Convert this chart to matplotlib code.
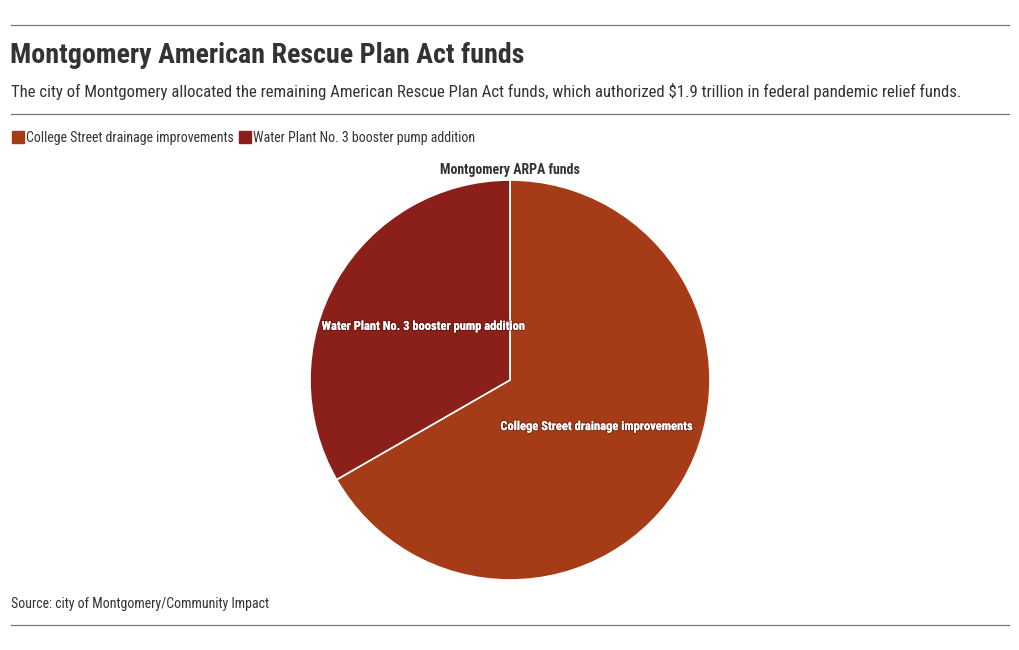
import matplotlib.pyplot as plt
import matplotlib.patheffects as pe
from matplotlib import font_manager
from matplotlib.lines import Line2D

# data
categories = ["College Street drainage improvements", "Water Plant No. 3 booster pump addition"]
shares = [66.7, 33.3]
colors = ["#A63B17", "#8A2019"]

names = {f.name for f in font_manager.fontManager.ttflist}
fam = "Roboto Condensed" if "Roboto Condensed" in names else "Roboto"
plt.rcParams['font.family'] = [fam, 'DejaVu Sans']
txt = "#333333"

fig = plt.figure(figsize=(10.2, 6.5), dpi=100)
W, H = 1020, 650

def fx(x):
    return x / W

def fy(y):
    return 1 - y / H

# rules
for y in (25, 114, 625):
    fig.add_artist(Line2D([fx(11), fx(1009)], [fy(y), fy(y)], color="#777777", lw=0.9))

fig.text(fx(10), fy(55.5), "Montgomery American Rescue Plan Act funds",
         fontsize=20.2, fontweight="bold", color=txt, va="center", ha="left")
fig.text(fx(11), fy(91), "The city of Montgomery allocated the remaining American Rescue Plan Act funds, "
         "which authorized $1.9 trillion in federal pandemic relief funds.",
         fontsize=12.1, color=txt, va="center", ha="left")

# legend
handles = [Line2D([], [], marker="s", ls="", markersize=8.5, color=c) for c in colors]
fig.legend(handles, categories, loc="center left", bbox_to_anchor=(fx(1), fy(138)),
           ncol=2, frameon=False, fontsize=10, handlelength=0.6, handletextpad=0.3,
           columnspacing=0.5, labelcolor=txt)

# pie
ax = fig.add_axes([fx(310), fy(580), 400 / W, 400 / H])
wedges, texts = ax.pie(shares, colors=colors, labels=categories, startangle=90,
                       counterclock=False, labeldistance=0.5,
                       wedgeprops=dict(edgecolor="white", linewidth=1.2),
                       textprops=dict(color="white", fontsize=9, fontweight="bold",
                                      ha="center", va="baseline"))
for t in texts:
    t.set_ha("center")
    t.set_va("baseline")
    t.set_path_effects([pe.withStroke(linewidth=1.5, foreground="#2a0805", alpha=0.35), pe.Normal()])
ax.set_xlim(-1, 1)
ax.set_ylim(-1, 1)
ax.set_aspect("equal")

fig.text(fx(510), fy(170), "Montgomery ARPA funds", fontsize=10, fontweight="bold",
         color=txt, ha="center", va="center")

fig.text(fx(11), fy(604), "Source: city of Montgomery/Community Impact",
         fontsize=10, color=txt, ha="left", va="center")

fig.savefig("out.png", dpi=100, facecolor="white")
